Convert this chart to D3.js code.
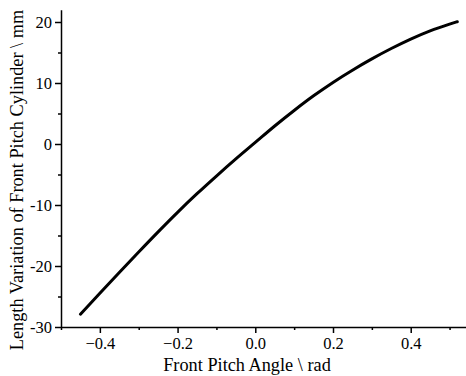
<!DOCTYPE html>
<html>
<head>
<meta charset="utf-8">
<script src="https://cdn.jsdelivr.net/npm/d3@7"></script>
<style>
    body { margin: 0; background: #fff; }
    svg { display: block; }
    .axis text { font-family: "Liberation Serif", "Times New Roman", serif; font-size: 16.5px; fill: #000; }
    .axis path, .axis line { stroke: #000; stroke-width: 1.5px; }
    .title { font-family: "Liberation Serif", "Times New Roman", serif; font-size: 18.3px; fill: #000; }
</style>
</head>
<body>
<svg id="chart" width="466" height="376"></svg>
<script>
// pitch angle (rad) and cylinder length variation (mm)
let angle = [-0.45, -0.40, -0.35, -0.30, -0.25, -0.20, -0.15, -0.10, -0.05, 0.00,
             0.05, 0.10, 0.15, 0.20, 0.25, 0.30, 0.35, 0.40, 0.45, 0.50, 0.52];
let lengthVar = [-27.9, -24.45, -21.05, -17.7, -14.4, -11.2, -8.15, -5.25, -2.45, 0.25,
                 2.95, 5.5, 7.9, 10.1, 12.1, 13.95, 15.65, 17.2, 18.55, 19.65, 20.05];

let xTicks = [-0.4, -0.2, 0.0, 0.2, 0.4];
let xMinor = [-0.5, -0.3, -0.1, 0.1, 0.3, 0.5];
let yTicks = [-30, -20, -10, 0, 10, 20];
let yMinor = [-25, -15, -5, 5, 15];

let svg = d3.select("#chart");

let x = d3.scaleLinear().domain([-0.5, 0.55]).range([61, 469]);
let y = d3.scaleLinear().domain([-30, 22]).range([327, 9.8]);

// minor ticks first, then the major axes on top
svg.append("g").attr("class", "axis")
    .attr("transform", "translate(0,327)")
    .call(d3.axisBottom(x).tickValues(xMinor).tickSize(3).tickFormat(""))
    .select(".domain").remove();
svg.append("g").attr("class", "axis")
    .attr("transform", "translate(61,0)")
    .call(d3.axisLeft(y).tickValues(yMinor).tickSize(3).tickFormat(""))
    .select(".domain").remove();

svg.append("g").attr("class", "axis")
    .attr("transform", "translate(0,327)")
    .call(d3.axisBottom(x).tickValues(xTicks).tickSize(6).tickSizeOuter(0)
        .tickPadding(4).tickFormat(d3.format(".1f")));

svg.append("g").attr("class", "axis")
    .attr("transform", "translate(61,0)")
    .call(d3.axisLeft(y).tickValues(yTicks).tickSize(6).tickSizeOuter(0)
        .tickPadding(3).tickFormat(d => d < 0 ? "-" + Math.abs(d) : d));

let line = d3.line()
    .x((d, i) => x(angle[i]))
    .y(d => y(d))
    .curve(d3.curveMonotoneX);

svg.append("path")
    .datum(lengthVar)
    .attr("d", line)
    .attr("fill", "none")
    .attr("stroke", "#000")
    .attr("stroke-width", 3)
    .attr("stroke-linecap", "round");

svg.append("text").attr("class", "title")
    .attr("x", 247).attr("y", 371)
    .attr("text-anchor", "middle")
    .text("Front Pitch Angle \\ rad");

svg.append("text").attr("class", "title")
    .attr("transform", "translate(23,180) rotate(-90)")
    .attr("text-anchor", "middle")
    .text("Length Variation of Front Pitch Cylinder \\ mm");
</script>
</body>
</html>
